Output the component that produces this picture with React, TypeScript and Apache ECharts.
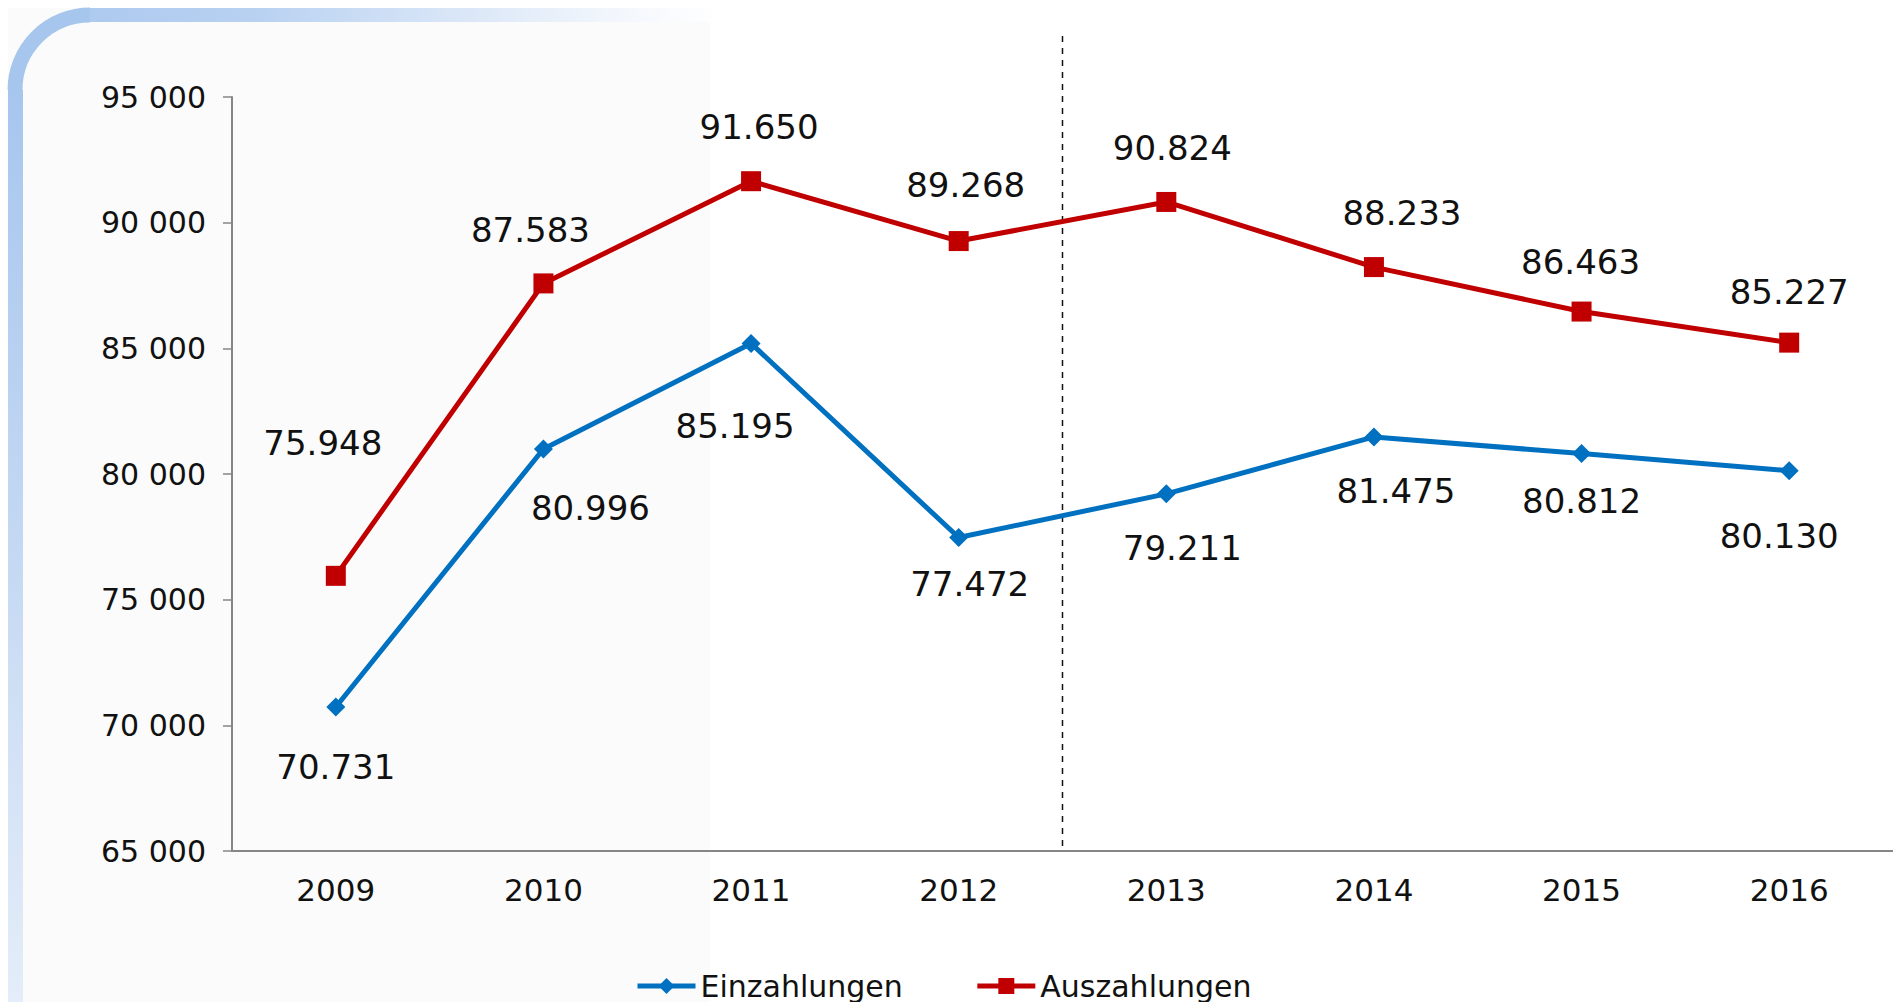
import React, { useEffect, useRef } from "react";
import * as echarts from "echarts";

const years = ["2009", "2010", "2011", "2012", "2013", "2014", "2015", "2016"];
const einzahlungen = [70731, 80996, 85195, 77472, 79211, 81475, 80812, 80130];
const auszahlungen = [75948, 87583, 91650, 89268, 90824, 88233, 86463, 85227];
const yMin = 65000;
const yMax = 95000;
const yStep = 5000;

// label placement relative to each marker (styling, not data)
const blueLabelOffsets = [
  [0, 60], [47, 59], [-16, 83], [11, 46], [16, 54], [22, 54], [0, 47], [-10, 65],
];
const redLabelOffsets = [
  [-13, -133], [-13, -53], [8, -54], [7, -56], [6, -54], [28, -54], [-1, -50], [0, -51],
];

const FONT = "'DejaVu Sans', sans-serif";

function fmtDE(v: number): string {
  const th = Math.floor(v / 1000);
  const rest = String(v % 1000).padStart(3, "0");
  return th + "." + rest;
}

export default function App() {
  const ref = useRef<HTMLDivElement>(null);
  useEffect(() => {
    if (!ref.current) return;
    const chart = echarts.init(ref.current, undefined, { renderer: "svg" });
    const labelStyle = {
      show: true,
      position: "inside" as const,
      color: "#111",
      fontFamily: FONT,
      fontSize: 34,
      formatter: (p: any) => fmtDE(p.value),
    };
    chart.setOption({
      animation: false,
      backgroundColor: "#ffffff",
      textStyle: { fontFamily: FONT },
      grid: { left: 232, top: 97, right: 0, bottom: 151, containLabel: false },
      legend: {
        left: 630,
        top: 966,
        itemWidth: 58,
        itemHeight: 20,
        itemGap: 72,
        lineStyle: { width: 5 },
        textStyle: { fontFamily: FONT, fontSize: 30, color: "#111" },
        data: ["Einzahlungen", "Auszahlungen"],
      },
      xAxis: {
        type: "category",
        data: years,
        boundaryGap: true,
        axisLine: { lineStyle: { color: "#868686", width: 2 } },
        axisTick: { inside: true, length: 9, lineStyle: { color: "#868686", width: 1.5 } },
        axisLabel: { fontFamily: FONT, fontSize: 31, color: "#111", margin: 23 },
        splitLine: { show: false },
      },
      yAxis: {
        type: "value",
        min: yMin,
        max: yMax,
        interval: yStep,
        axisLine: { show: true, lineStyle: { color: "#868686", width: 2 } },
        axisTick: { show: true, length: 9, lineStyle: { color: "#868686", width: 1.5 } },
        axisLabel: {
          fontFamily: FONT,
          fontSize: 30,
          color: "#111",
          margin: 26,
          formatter: (v: number) => `${Math.round(v / 1000)} 000`,
        },
        splitLine: { show: false },
      },
      series: [
        {
          name: "Einzahlungen",
          type: "line",
          data: einzahlungen.map((v, i) => ({
            value: v,
            label: { offset: blueLabelOffsets[i] },
          })),
          symbol: "diamond",
          symbolSize: [19, 19],
          lineStyle: { color: "#0070c0", width: 5 },
          itemStyle: { color: "#0070c0" },
          label: labelStyle,
          z: 3,
        },
        {
          name: "Auszahlungen",
          type: "line",
          data: auszahlungen.map((v, i) => ({
            value: v,
            label: { offset: redLabelOffsets[i] },
          })),
          symbol: "rect",
          symbolSize: 20,
          lineStyle: { color: "#c00000", width: 5 },
          itemStyle: { color: "#c00000" },
          label: labelStyle,
          z: 4,
        },
      ],
    });

    const xa = chart.convertToPixel({ xAxisIndex: 0 }, "2012") as number;
    const xb = chart.convertToPixel({ xAxisIndex: 0 }, "2013") as number;
    const xMid = (xa + xb) / 2;
    const yBottom = chart.convertToPixel({ yAxisIndex: 0 }, yMin) as number;

    const topGrad = new echarts.graphic.LinearGradient(0, 0, 720, 0, [
      { offset: 0, color: "#a7c6ee" },
      { offset: 0.35, color: "#b8d1f1" },
      { offset: 0.85, color: "#f2f6fc" },
      { offset: 1, color: "#ffffff" },
    ], true);
    const leftGrad = new echarts.graphic.LinearGradient(0, 90, 0, 1002, [
      { offset: 0, color: "#a7c6ee" },
      { offset: 0.5, color: "#c4d8f3" },
      { offset: 1, color: "#e4edf9" },
    ], true);

    chart.setOption({
      graphic: [
        {
          type: "rect",
          z: -20,
          silent: true,
          shape: { x: 8, y: 8, width: 702, height: 994 },
          style: { fill: "#fbfbfb" },
        },
        {
          type: "arc",
          z: -10,
          silent: true,
          shape: { cx: 90, cy: 90, r: 75, startAngle: Math.PI, endAngle: Math.PI * 1.5 },
          style: { stroke: "#a7c6ee", lineWidth: 15, fill: null },
        },
        {
          type: "line",
          z: -10,
          silent: true,
          shape: { x1: 90, y1: 15, x2: 720, y2: 15 },
          style: { stroke: topGrad, lineWidth: 14 },
        },
        {
          type: "line",
          z: -10,
          silent: true,
          shape: { x1: 15.5, y1: 90, x2: 15.5, y2: 1002 },
          style: { stroke: leftGrad, lineWidth: 15 },
        },
        {
          type: "line",
          z: 1,
          silent: true,
          shape: { x1: xMid, y1: 36, x2: xMid, y2: yBottom },
          style: { stroke: "#111", lineWidth: 1.5, lineDash: [6, 6] },
        },
      ],
    });

    return () => chart.dispose();
  }, []);
  return (
    <div
      ref={ref}
      style={{ position: "fixed", left: 0, top: 0, width: 1893, height: 1002 }}
    />
  );
}
